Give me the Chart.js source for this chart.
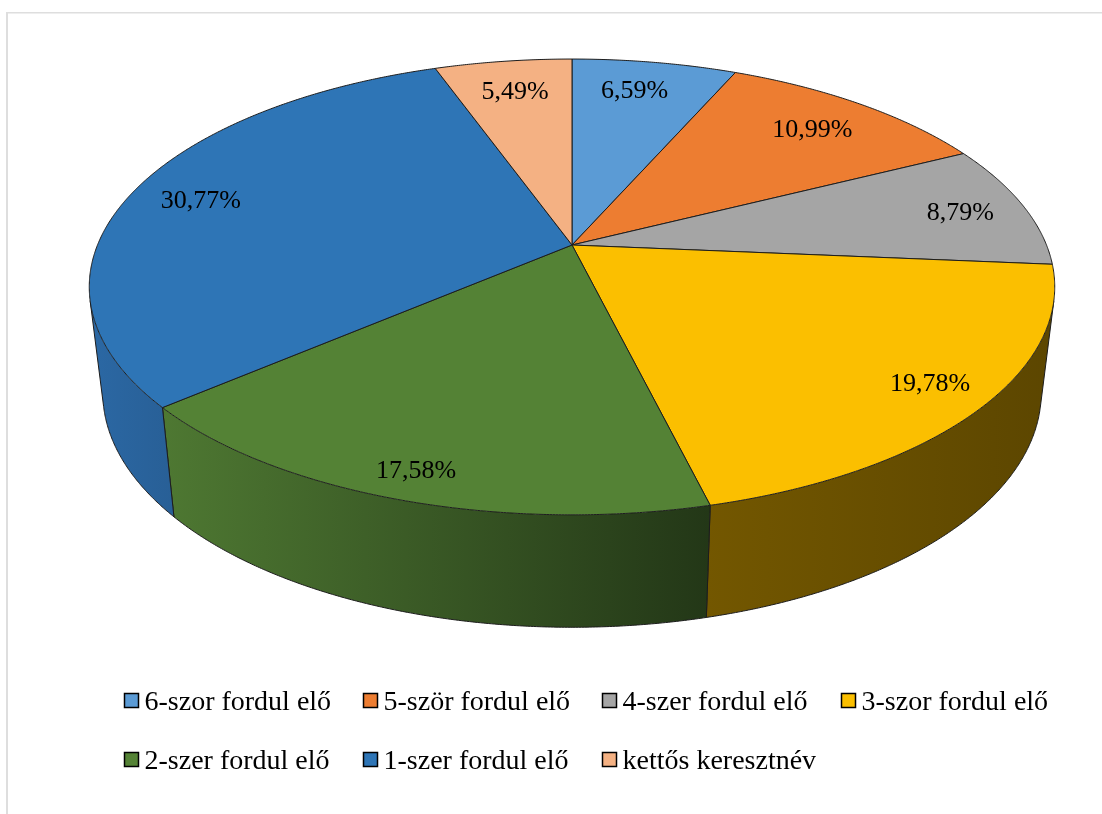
<!DOCTYPE html>
<html lang="hu">
<head>
    <meta charset="UTF-8">
    <title>Keresztnevek gyakorisága</title>
    <script src="https://cdn.jsdelivr.net/npm/chart.js"></script>
    <style>
        body { margin: 0; background: #fff; }
        canvas { display: block; }
    </style>
</head>
<body>
    <canvas id="kordiagram" width="1102" height="814"></canvas>

<script>
const categories = ['6-szor fordul elő', '5-ször fordul elő', '4-szer fordul elő', '3-szor fordul elő',
    '2-szer fordul elő', '1-szer fordul elő', 'kettős keresztnév'];
const shares = [6.59, 10.99, 8.79, 19.78, 17.58, 30.77, 5.49];
const colors = ['#5B9BD5', '#ED7D31', '#A5A5A5', '#FBBF00', '#548235', '#2E75B6', '#F4B183'];
// side wall shading, left and right end of each slice's wall
const sideShades = [['#3d6a92', '#2f5576'], ['#a05520', '#80441a'], ['#707070', '#5a5a5a'], ['#735700', '#5c4600'],
    ['#4e7832', '#233717'], ['#2b68a4', '#285f96'], ['#a67850', '#856040']];
// how far out each percent label sits on its slice (0 = middle, 1 = rim)
const labelRadius = [0.82, 0.81, 0.855, 0.88, 0.905, 0.84, 0.815];
// small sideways nudge of the labels along the rim, in radians
const labelTurn = [-0.021, 0.006, 0.01, -0.014, 0, -0.004, 0.003];

// perspective of the tilted disc
const cx = 572, scaleX = 474.5, scaleY = 175.1, apexY = 245, tilt = -0.184;
const floorScale = 0.972, floorStretch = 1.03, floorShift = 97;
const FONT = '"Liberation Serif", "Times New Roman", serif';

function topPoint(angle, r = 1) {
    const u = Math.cos(angle) * r, v = Math.sin(angle) * r;
    const w = 1 + tilt * v;
    return { x: cx + scaleX * u / w, y: (scaleY * v + apexY) / w };
}

function floorPoint(angle) {
    const p = topPoint(angle);
    return { x: cx + (p.x - cx) * floorScale, y: p.y * floorStretch + floorShift };
}

function isFacing(a1, a2) {
    const q = [topPoint(a1), topPoint(a2), floorPoint(a2), floorPoint(a1)];
    let area = 0;
    for (let i = 0; i < 4; i++) {
        const n = q[(i + 1) % 4];
        area += q[i].x * n.y - n.x * q[i].y;
    }
    return area < 0;
}

function traceLine(ctx, a, b) {
    ctx.beginPath();
    ctx.moveTo(a.x, a.y);
    ctx.lineTo(b.x, b.y);
    ctx.stroke();
}

function drawWall(ctx, arc, shades) {
    const steps = Math.ceil((arc.endAngle - arc.startAngle) / 0.005);
    const da = (arc.endAngle - arc.startAngle) / steps;
    const edge = [];
    for (let i = 0; i < steps; i++) {
        const a1 = arc.startAngle + i * da;
        if (isFacing(a1, a1 + da)) {
            if (!edge.length) edge.push(a1);
            edge.push(a1 + da);
        }
    }
    if (!edge.length) return;

    const topRim = edge.map(a => topPoint(a));
    const floorRim = edge.map(a => floorPoint(a));
    const xs = topRim.concat(floorRim).map(p => p.x);
    const grad = ctx.createLinearGradient(Math.min(...xs), 0, Math.max(...xs), 0);
    grad.addColorStop(0, shades[0]);
    grad.addColorStop(1, shades[1]);

    ctx.beginPath();
    topRim.forEach((p, i) => { if (i === 0) ctx.moveTo(p.x, p.y); else ctx.lineTo(p.x, p.y); });
    floorRim.slice().reverse().forEach(p => ctx.lineTo(p.x, p.y));
    ctx.closePath();
    ctx.fillStyle = grad;
    ctx.fill();

    // wall outline: floor rim plus the two upright edges
    ctx.strokeStyle = '#1c1c1c';
    ctx.lineWidth = 1;
    ctx.beginPath();
    floorRim.forEach((p, i) => { if (i === 0) ctx.moveTo(p.x, p.y); else ctx.lineTo(p.x, p.y); });
    ctx.stroke();
    traceLine(ctx, topRim[0], floorRim[0]);
    traceLine(ctx, topRim[topRim.length - 1], floorRim[floorRim.length - 1]);
}

function drawSlice(ctx, arc, color) {
    const steps = Math.ceil((arc.endAngle - arc.startAngle) / 0.005);
    ctx.beginPath();
    ctx.moveTo(cx, apexY);
    for (let i = 0; i <= steps; i++) {
        const p = topPoint(arc.startAngle + (arc.endAngle - arc.startAngle) * i / steps);
        ctx.lineTo(p.x, p.y);
    }
    ctx.closePath();
    ctx.fillStyle = color;
    ctx.fill();
    ctx.strokeStyle = '#1c1c1c';
    ctx.lineWidth = 1;
    ctx.stroke();
}

// the arc elements hold the angles, this just projects them onto the tilted disc
const disc3d = {
    id: 'disc3d',
    beforeDraw(chart) {
        const ctx = chart.ctx;
        ctx.save();
        ctx.fillStyle = '#dedede';
        ctx.fillRect(6, 12, 2, 802);
        ctx.fillRect(6, 12, 1096, 1.5);
        ctx.restore();
    },
    beforeDatasetsDraw(chart) {
        const ctx = chart.ctx;
        const arcs = chart.getDatasetMeta(0).data;
        ctx.save();
        ctx.lineJoin = 'round';
        arcs.forEach((arc, i) => drawWall(ctx, arc, sideShades[i]));
        arcs.forEach((arc, i) => drawSlice(ctx, arc, colors[i]));

        ctx.fillStyle = '#000';
        ctx.font = '26px ' + FONT;
        ctx.textAlign = 'center';
        ctx.textBaseline = 'middle';
        arcs.forEach((arc, i) => {
            const p = topPoint((arc.startAngle + arc.endAngle) / 2 + labelTurn[i], labelRadius[i]);
            ctx.fillText(shares[i].toFixed(2).replace('.', ',') + '%', p.x, p.y + 1);
        });
        ctx.restore();
        return false;
    },
    afterDraw(chart) {
        const ctx = chart.ctx;
        const columns = [124.5, 363.5, 602.5, 841.5];
        const rows = [693.5, 752.5];
        ctx.save();
        ctx.font = '28px ' + FONT;
        ctx.textAlign = 'left';
        ctx.textBaseline = 'alphabetic';
        chart.data.labels.forEach((label, i) => {
            const x = columns[i % 4], y = rows[Math.floor(i / 4)];
            ctx.fillStyle = colors[i];
            ctx.strokeStyle = '#000';
            ctx.lineWidth = 1.5;
            ctx.fillRect(x, y, 14, 14);
            ctx.strokeRect(x, y, 14, 14);
            ctx.fillStyle = '#000';
            ctx.fillText(label, x + 20, y + 16.5);
        });
        ctx.restore();
    }
};

new Chart(document.getElementById('kordiagram'), {
    type: 'pie',
    data: {
        labels: categories,
        datasets: [{ data: shares, backgroundColor: colors }]
    },
    options: {
        responsive: false,
        animation: false,
        plugins: { legend: { display: false }, tooltip: { enabled: false } }
    },
    plugins: [disc3d]
});
</script>
</body>
</html>
